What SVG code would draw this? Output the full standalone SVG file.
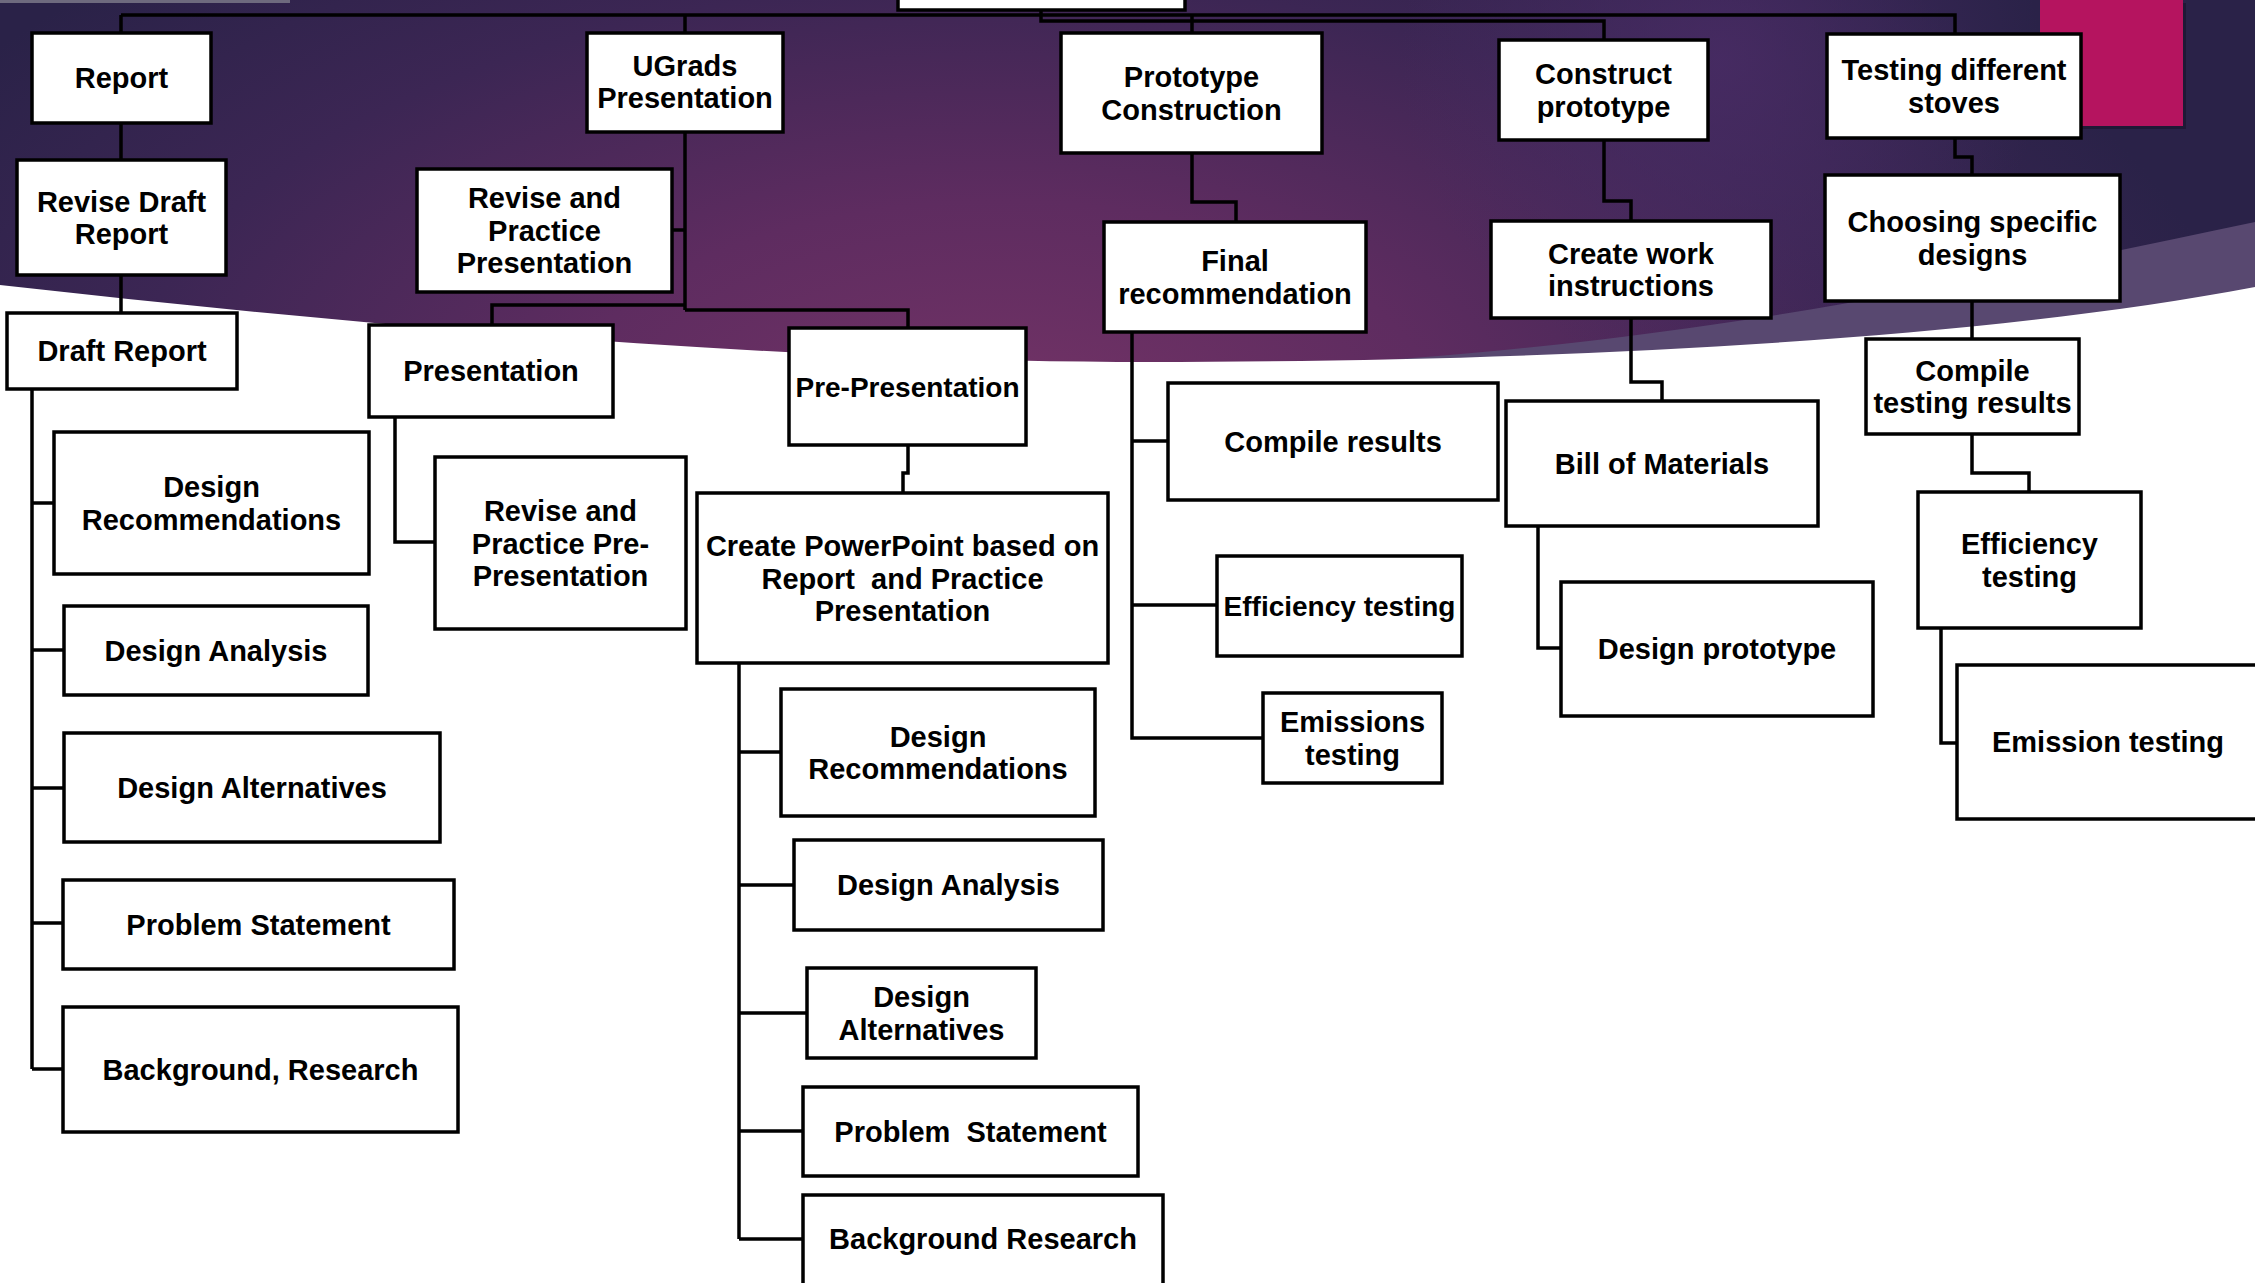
<svg xmlns="http://www.w3.org/2000/svg" width="2255" height="1283" viewBox="0 0 2255 1283">
<defs>
<radialGradient id="bg" gradientUnits="userSpaceOnUse" cx="1000" cy="420" r="1250" gradientTransform="translate(0 210) scale(1 0.5)">
<stop offset="0" stop-color="#733366"/>
<stop offset="0.35" stop-color="#5e2c60"/>
<stop offset="0.7" stop-color="#3c2654"/>
<stop offset="1" stop-color="#2a2248"/>
</radialGradient>
<radialGradient id="glow" gradientUnits="userSpaceOnUse" cx="1720" cy="60" r="320">
<stop offset="0" stop-color="#4a2c66" stop-opacity="0.8"/>
<stop offset="1" stop-color="#4a2c66" stop-opacity="0"/>
</radialGradient>
<style>
.box{fill:#fff;stroke:#000;stroke-width:3.5}
.ln{fill:none;stroke:#000;stroke-width:3.5;stroke-linejoin:miter}
text{font-family:"Liberation Sans",Arial,sans-serif;font-weight:bold;font-size:29px;fill:#000;text-anchor:middle}
.pre{white-space:pre}
</style>
</defs>
<rect x="0" y="0" width="2255" height="1283" fill="#fff"/>
<rect x="0" y="0" width="2255" height="420" fill="url(#bg)"/>
<rect x="0" y="0" width="2255" height="420" fill="url(#glow)"/>
<path d="M1300,365 C1700,345 2000,275 2255,222 V420 H1300 Z" fill="#584870"/>
<path d="M0,285 C400,330 800,362 1150,362 C1500,362 1950,345 2255,287 V1283 H0 Z" fill="#fff"/>
<rect x="0" y="0" width="290" height="3" fill="#6e6a7e"/>
<rect x="2043" y="3" width="143" height="126" fill="#000" opacity="0.25"/>
<rect x="2040" y="0" width="143" height="126" fill="#b5145f"/>

<g id="connectors">
<path class="ln" d="M121,15 H1955 V34"/>
<path class="ln" d="M1041,10 V21 H1604 V40"/>
<path class="ln" d="M121,15 V33 M121,123 V160 M121,275 V313"/>
<path class="ln" d="M32,389 V1069 M32,503 H54 M32,650 H64 M32,788 H64 M32,923 H63 M32,1069 H63"/>
<path class="ln" d="M685,15 V33 M685,132 V310 M672,230 H685 M685,305 H492 V325 M685,310 H908 V328"/>
<path class="ln" d="M395,417 V542 H435"/>
<path class="ln" d="M908,445 V473 H903 V493"/>
<path class="ln" d="M739,663 V1239 M739,752 H781 M739,885 H794 M739,1013 H807 M739,1131 H803 M739,1239 H803"/>
<path class="ln" d="M1192,15 V33 M1192,153 V202 H1236 V222"/>
<path class="ln" d="M1132,332 V738 H1263 M1132,441 H1168 M1132,605 H1217"/>
<path class="ln" d="M1604,140 V201 H1631 V221 M1631,318 V382 H1662 V401"/>
<path class="ln" d="M1538,526 V648 H1561"/>
<path class="ln" d="M1955,138 V157 H1972 V175 M1972,301 V339 M1972,434 V473 H2029 V492"/>
<path class="ln" d="M1941,628 V743 H1957"/>
</g>

<g id="root"><rect class="box" x="898" y="-40" width="287" height="50"/></g>

<g id="report"><rect class="box" x="32" y="33" width="179" height="90"/><text x="121.5" y="88.4">Report</text></g>
<g id="revise-draft-report"><rect class="box" x="17" y="160" width="209" height="115"/><text x="121.5" y="211.6">Revise Draft<tspan x="121.5" dy="32.5">Report</tspan></text></g>
<g id="draft-report"><rect class="box" x="7" y="313" width="230" height="76"/><text x="122" y="361.4">Draft Report</text></g>
<g id="design-rec-1"><rect class="box" x="54" y="432" width="315" height="142"/><text x="211.5" y="497.2">Design<tspan x="211.5" dy="32.5">Recommendations</tspan></text></g>
<g id="design-analysis-1"><rect class="box" x="64" y="606" width="304" height="89"/><text x="216" y="661">Design Analysis</text></g>
<g id="design-alt-1"><rect class="box" x="64" y="733" width="376" height="109"/><text x="252" y="798">Design Alternatives</text></g>
<g id="problem-1"><rect class="box" x="63" y="880" width="391" height="89"/><text x="258.5" y="935">Problem Statement</text></g>
<g id="background-1"><rect class="box" x="63" y="1007" width="395" height="125"/><text x="260.5" y="1080">Background, Research</text></g>

<g id="ugrads"><rect class="box" x="587" y="33" width="196" height="99"/><text x="685" y="75.5">UGrads<tspan x="685" dy="32.5">Presentation</tspan></text></g>
<g id="revise-practice"><rect class="box" x="417" y="169" width="255" height="123"/><text x="544.5" y="208.4">Revise and<tspan x="544.5" dy="32.5">Practice</tspan><tspan x="544.5" dy="32.5">Presentation</tspan></text></g>
<g id="presentation"><rect class="box" x="369" y="325" width="244" height="92"/><text x="491" y="381.4">Presentation</text></g>
<g id="revise-pre"><rect class="box" x="435" y="457" width="251" height="172"/><text x="560.5" y="521">Revise and<tspan x="560.5" dy="32.5">Practice Pre-</tspan><tspan x="560.5" dy="32.5">Presentation</tspan></text></g>
<g id="pre-presentation"><rect class="box" x="789" y="328" width="237" height="117"/><text x="907.5" y="397" style="font-size:28px">Pre-Presentation</text></g>
<g id="create-ppt"><rect class="box" x="697" y="493" width="411" height="170"/><text class="pre" x="902.5" y="556">Create PowerPoint based on<tspan x="902.5" dy="32.5">Report  and Practice</tspan><tspan x="902.5" dy="32.5">Presentation</tspan></text></g>
<g id="design-rec-2"><rect class="box" x="781" y="689" width="314" height="127"/><text x="938" y="746.7">Design<tspan x="938" dy="32.5">Recommendations</tspan></text></g>
<g id="design-analysis-2"><rect class="box" x="794" y="840" width="309" height="90"/><text x="948.5" y="895.4">Design Analysis</text></g>
<g id="design-alt-2"><rect class="box" x="807" y="968" width="229" height="90"/><text x="921.5" y="1007.2">Design<tspan x="921.5" dy="32.5">Alternatives</tspan></text></g>
<g id="problem-2"><rect class="box" x="803" y="1087" width="335" height="89"/><text class="pre" x="970.5" y="1142">Problem  Statement</text></g>
<g id="background-2"><rect class="box" x="803" y="1195" width="360" height="95"/><text x="983" y="1249">Background Research</text></g>

<g id="prototype-construction"><rect class="box" x="1061" y="33" width="261" height="120"/><text x="1191.5" y="87">Prototype<tspan x="1191.5" dy="32.5">Construction</tspan></text></g>
<g id="final-rec"><rect class="box" x="1104" y="222" width="262" height="110"/><text x="1235" y="271">Final<tspan x="1235" dy="32.5">recommendation</tspan></text></g>
<g id="compile-results"><rect class="box" x="1168" y="383" width="330" height="117"/><text x="1333" y="452">Compile results</text></g>
<g id="efficiency-3"><rect class="box" x="1217" y="556" width="245" height="100"/><text x="1339.5" y="616.4" style="font-size:28px">Efficiency testing</text></g>
<g id="emissions-3"><rect class="box" x="1263" y="693" width="179" height="90"/><text x="1352.5" y="732">Emissions<tspan x="1352.5" dy="32.5">testing</tspan></text></g>

<g id="construct-prototype"><rect class="box" x="1499" y="40" width="209" height="100"/><text x="1603.5" y="84">Construct<tspan x="1603.5" dy="32.5">prototype</tspan></text></g>
<g id="work-instructions"><rect class="box" x="1491" y="221" width="280" height="97"/><text x="1631" y="263.7">Create work<tspan x="1631" dy="32.5">instructions</tspan></text></g>
<g id="bill-of-materials"><rect class="box" x="1506" y="401" width="312" height="125"/><text x="1662" y="474">Bill of Materials</text></g>
<g id="design-prototype"><rect class="box" x="1561" y="582" width="312" height="134"/><text x="1717" y="659.4">Design prototype</text></g>

<g id="testing-stoves"><rect class="box" x="1827" y="34" width="254" height="104"/><text x="1954" y="80">Testing different<tspan x="1954" dy="32.5">stoves</tspan></text></g>
<g id="choosing-designs"><rect class="box" x="1825" y="175" width="295" height="126"/><text x="1972.5" y="232">Choosing specific<tspan x="1972.5" dy="32.5">designs</tspan></text></g>
<g id="compile-testing"><rect class="box" x="1866" y="339" width="213" height="95"/><text x="1972.5" y="380.7">Compile<tspan x="1972.5" dy="32.5">testing results</tspan></text></g>
<g id="efficiency-5"><rect class="box" x="1918" y="492" width="223" height="136"/><text x="2029.5" y="554">Efficiency<tspan x="2029.5" dy="32.5">testing</tspan></text></g>
<g id="emission-5"><rect class="box" x="1957" y="665" width="303" height="154"/><text x="2108" y="752.4">Emission testing</text></g>
</svg>
